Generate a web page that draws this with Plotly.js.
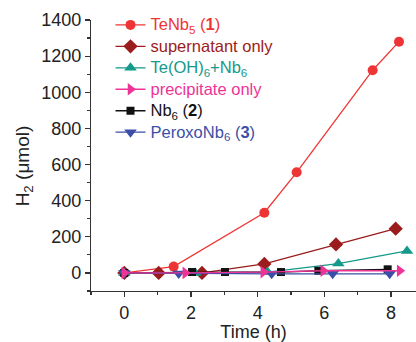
<!DOCTYPE html>
<html><head><meta charset="utf-8">
<script src="https://cdn.plot.ly/plotly-3.0.1.min.js"></script>
<style>html,body{margin:0;padding:0;background:#fff}#c{width:416px;height:342px}</style>
</head><body><div id="c"></div>
<script>
const names = ["TeNb<sub>5</sub> (<b>1</b>)", "supernatant only", "Te(OH)<sub>6</sub>+Nb<sub>6</sub>", "precipitate only", "Nb<sub>6</sub> (<b>2</b>)", "PeroxoNb<sub>6</sub> (<b>3</b>)"];
const teNb5X = [0, 1.48, 4.2, 5.17, 7.45, 8.24];
const teNb5Y = [0, 35, 333, 557, 1122, 1280];
const superX = [0, 1.03, 2.33, 4.2, 6.35, 8.14];
const superY = [0, 0, 0, 50, 158, 245];
const teohX = [0, 2.13, 4.3, 6.42, 8.48];
const teohY = [0, 0, 5, 52, 122];
const precX = [0, 1.83, 4.17, 5.97, 8.26];
const precY = [0, 0, 5, 12, 12];
const nb6X = [0, 2.03, 3.02, 4.7, 5.82, 7.9];
const nb6Y = [0, 5, 5, 5, 12, 20];
const peroxX = [0, 1.63, 4.42, 6.25, 7.96];
const peroxY = [0, -3, -5, -5, -5];

const colors = ["#ee3535", "#9b1c1c", "#14998a", "#ee3397", "#111111", "#3b4fa8"];
const symbols = ["circle", "diamond", "triangle-up", "triangle-right", "square", "triangle-down"];
const sizes = [10, 11, 11, 11, 8, 11];
const xs = [teNb5X, superX, teohX, precX, nb6X, peroxX];
const ys = [teNb5Y, superY, teohY, precY, nb6Y, peroxY];
const drawOrder = [0, 1, 2, 4, 5, 3];

const traces = drawOrder.map(i => ({
  x: xs[i], y: ys[i],
  name: '<span style="color:' + colors[i] + ';font-size:16.5px">' + names[i] + '</span>',
  type: "scatter", mode: "lines+markers",
  legendrank: i + 1,
  line: {color: colors[i], width: 1.3},
  marker: {color: colors[i], symbol: symbols[i], size: sizes[i]}
}));

const layout = {
  width: 416, height: 342,
  margin: {l: 91, r: 0, t: 20, b: 51},
  paper_bgcolor: "#fff", plot_bgcolor: "#fff",
  font: {family: "Liberation Sans, Arial, sans-serif", color: "#222"},
  showlegend: true,
  legend: {x: 0.06, y: 1.04, xanchor: "left", yanchor: "top", bgcolor: "rgba(0,0,0,0)",
           font: {size: 14.2}, itemwidth: 30},
  xaxis: {
    range: [-1, 8.75], showgrid: false, zeroline: false,
    showline: true, linecolor: "#333", linewidth: 1.2,
    ticks: "outside", ticklen: 5, tickcolor: "#333", tickwidth: 1.2,
    tickvals: [0, 2, 4, 6, 8], ticktext: ["0", "2", "4", "6", "8"],
    minor: {tickvals: [-1, 1, 3, 5, 7], ticks: "outside", ticklen: 3, tickcolor: "#333"},
    tickfont: {size: 18},
    title: {text: "Time (h)", font: {size: 18}, standoff: 6}
  },
  yaxis: {
    range: [-100, 1400], showgrid: false, zeroline: false,
    showline: true, linecolor: "#333", linewidth: 1.2,
    ticks: "outside", ticklen: 5, tickcolor: "#333", tickwidth: 1.2,
    tickvals: [0, 200, 400, 600, 800, 1000, 1200, 1400],
    minor: {dtick: 100, ticks: "outside", ticklen: 3, tickcolor: "#333"},
    tickfont: {size: 18},
    title: {text: "H<sub>2</sub> (μmol)&nbsp;&nbsp;&nbsp;&nbsp;", font: {size: 19}, standoff: 6}
  }
};
Plotly.newPlot("c", traces, layout, {displayModeBar: false, staticPlot: true});
</script></body></html>
